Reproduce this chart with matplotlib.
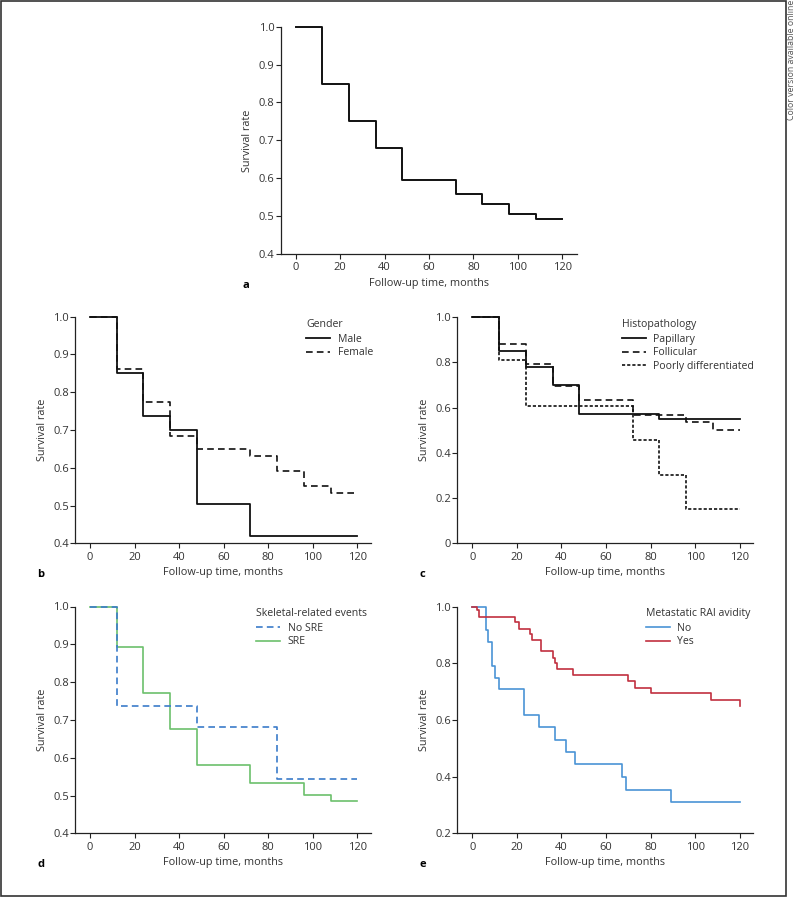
import matplotlib
matplotlib.use("Agg")
import matplotlib.pyplot as plt
from matplotlib.patches import Rectangle

plt.rcParams["font.family"] = ["Open Sans", "DejaVu Sans"]
plt.rcParams["font.size"] = 7

W, H = 797, 897

# --- survival data --------------------------------------------------------
a_time = [0, 12, 24, 36, 48, 72, 84, 96, 108, 120]
a_surv = [1.0, 0.848, 0.752, 0.681, 0.595, 0.558, 0.532, 0.506, 0.492, 0.492]

b_male_time = [0, 12, 24, 36, 48, 72, 120]
b_male_surv = [1.0, 0.850, 0.736, 0.699, 0.505, 0.420, 0.420]
b_female_time = [0, 12, 24, 36, 48, 72, 84, 96, 108, 120]
b_female_surv = [1.0, 0.861, 0.773, 0.685, 0.650, 0.630, 0.591, 0.553, 0.534, 0.534]

c_pap_time = [0, 12, 24, 36, 48, 84, 120]
c_pap_surv = [1.0, 0.851, 0.778, 0.700, 0.572, 0.551, 0.551]
c_fol_time = [0, 12, 24, 36, 48, 72, 96, 108, 120]
c_fol_surv = [1.0, 0.882, 0.794, 0.697, 0.633, 0.569, 0.536, 0.501, 0.501]
c_poor_time = [0, 12, 24, 72, 84, 96, 120]
c_poor_surv = [1.0, 0.810, 0.608, 0.455, 0.303, 0.152, 0.152]

d_nosre_time = [0, 12, 48, 84, 120]
d_nosre_surv = [1.0, 0.737, 0.680, 0.543, 0.543]
d_sre_time = [0, 12, 24, 36, 48, 72, 96, 108, 120]
d_sre_surv = [1.0, 0.893, 0.770, 0.677, 0.582, 0.533, 0.501, 0.485, 0.485]

e_no_time = [0, 6, 7, 9, 10, 12, 23, 30, 37, 42, 46, 67, 69, 89, 120]
e_no_surv = [1.0, 0.917, 0.875, 0.792, 0.750, 0.708, 0.618, 0.575, 0.531,
             0.486, 0.443, 0.400, 0.354, 0.310, 0.310]
e_yes_time = [0, 2, 3, 19, 21, 26, 27, 31, 36, 37, 38, 45, 70, 73, 80, 107, 120]
e_yes_surv = [1.0, 0.987, 0.962, 0.946, 0.922, 0.904, 0.884, 0.842, 0.820,
              0.800, 0.780, 0.759, 0.738, 0.714, 0.694, 0.671, 0.649]

x_ticks = [0, 20, 40, 60, 80, 100, 120]

C_BLUE_D, C_GREEN = "#3b7cc9", "#6cc06c"
C_BLUE_E, C_RED = "#4a94d6", "#c1303f"
C_AX = "#222222"


def _axes(fig, left, right, top, bottom):
    """Axes placed by pixel edges (spine left/right end, 1.0 tick, bottom spine)."""
    return fig.add_axes([left / W, 1 - bottom / H, (right - left) / W, (bottom - top) / H])


def _style(ax, x0px, x120px, left, right, yticks, ylabels, letter, fig):
    ppm = (x120px - x0px) / 120
    ax.set_xlim((left - x0px) / ppm, (right - x0px) / ppm)
    ax.set_ylim(yticks[0], yticks[-1])
    ax.set_xticks(x_ticks)
    ax.set_yticks(yticks)
    ax.set_yticklabels(ylabels)
    for s in ("top", "right"):
        ax.spines[s].set_visible(False)
    for s in ("left", "bottom"):
        ax.spines[s].set_color(C_AX)
        ax.spines[s].set_linewidth(0.9)
    ax.tick_params(axis="both", direction="out", length=3.6, width=0.8,
                   color=C_AX, labelsize=8, labelcolor="#333333")
    ax.tick_params(axis="y", pad=0.8)
    ax.tick_params(axis="x", pad=2.5)
    ax.set_xlabel("Follow-up time, months", fontsize=7.8, color="#333333", labelpad=3)
    ax.set_ylabel("Survival rate", fontsize=7.8, color="#333333", labelpad=4)
    bb = ax.get_position()
    fig.text(bb.x0 - 38 / W, bb.y0 - 31 / H, letter, fontsize=8, fontweight="bold",
             ha="left", va="center")


def _legend(ax, fig, x, y, title):
    leg = ax.legend(title=title, loc="upper left", bbox_to_anchor=(x / W, 1 - y / H),
                    bbox_transform=fig.transFigure, frameon=False, fontsize=7.6,
                    title_fontsize=7.6, handlelength=2.3, handletextpad=0.7,
                    labelspacing=0.22, borderpad=0, borderaxespad=0)
    leg._legend_box.align = "left"
    leg._legend_box.sep = 3
    for t in leg.get_texts():
        t.set_color("#333333")
    leg.get_title().set_color("#333333")


fig = plt.figure(figsize=(W / 100, H / 100), dpi=100)

# frame and side note
fig.patches.append(Rectangle((1 / W, 1.5 / H), 785 / W, (H - 2.5) / H, transform=fig.transFigure,
                             fill=False, edgecolor="#333333", linewidth=1.2))
fig.text(791 / W, 1.0, "Color version available online", rotation=90, ha="center",
         va="top", fontsize=6.3, color="#555555")

# a
ax = _axes(fig, 280.7, 576.7, 26.7, 254)
ax.step(a_time, a_surv, where="post", color="#111111", lw=1.4, clip_on=False)
_style(ax, 295.7, 562.3, 280.7, 576.7, [0.4, 0.5, 0.6, 0.7, 0.8, 0.9, 1.0],
       ["0.4", "0.5", "0.6", "0.7", "0.8", "0.9", "1.0"], "a", fig)

# b
ax = _axes(fig, 75.3, 371, 316.7, 543.3)
ax.step(b_male_time, b_male_surv, where="post", color="#111111", lw=1.3,
        clip_on=False, label="Male")
ax.step(b_female_time, b_female_surv, where="post", color="#111111", lw=1.2,
        dashes=(4, 2.5), clip_on=False, label="Female")
_style(ax, 90, 357.3, 75.3, 371, [0.4, 0.5, 0.6, 0.7, 0.8, 0.9, 1.0],
       ["0.4", "0.5", "0.6", "0.7", "0.8", "0.9", "1.0"], "b", fig)
_legend(ax, fig, 306, 319, "Gender")

# c
ax = _axes(fig, 457.3, 752.7, 317, 543.3)
ax.step(c_pap_time, c_pap_surv, where="post", color="#111111", lw=1.3,
        clip_on=False, label="Papillary")
ax.step(c_fol_time, c_fol_surv, where="post", color="#111111", lw=1.2,
        dashes=(4, 2.5), clip_on=False, label="Follicular")
ax.step(c_poor_time, c_poor_surv, where="post", color="#111111", lw=1.2,
        dashes=(1.9, 1.2), clip_on=False, label="Poorly differentiated")
_style(ax, 472.3, 739.7, 457.3, 752.7, [0, 0.2, 0.4, 0.6, 0.8, 1.0],
       ["0", "0.2", "0.4", "0.6", "0.8", "1.0"], "c", fig)
_legend(ax, fig, 621.7, 319, "Histopathology")

# d
ax = _axes(fig, 75.3, 371, 606.5, 833.3)
ax.step(d_nosre_time, d_nosre_surv, where="post", color=C_BLUE_D, lw=1.2,
        dashes=(4, 2.5), clip_on=False, label="No SRE", zorder=3)
ax.step(d_sre_time, d_sre_surv, where="post", color=C_GREEN, lw=1.2,
        clip_on=False, label="SRE", zorder=2)
_style(ax, 90, 357.3, 75.3, 371, [0.4, 0.5, 0.6, 0.7, 0.8, 0.9, 1.0],
       ["0.4", "0.5", "0.6", "0.7", "0.8", "0.9", "1.0"], "d", fig)
_legend(ax, fig, 256, 608, "Skeletal-related events")

# e
ax = _axes(fig, 457.3, 752.7, 606.7, 833.3)
ax.step(e_no_time, e_no_surv, where="post", color=C_BLUE_E, lw=1.2,
        clip_on=False, label="No")
ax.step(e_yes_time, e_yes_surv, where="post", color=C_RED, lw=1.2,
        clip_on=False, label="Yes")
_style(ax, 472.3, 739.7, 457.3, 752.7, [0.2, 0.4, 0.6, 0.8, 1.0],
       ["0.2", "0.4", "0.6", "0.8", "1.0"], "e", fig)
_legend(ax, fig, 645.7, 608, "Metastatic RAI avidity")

fig.savefig("out.png", dpi=100)
